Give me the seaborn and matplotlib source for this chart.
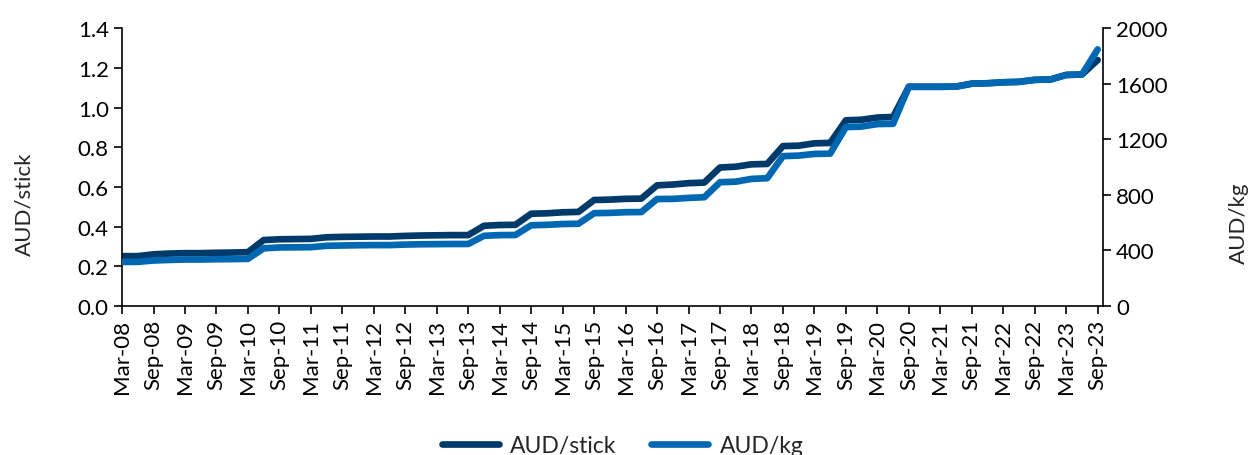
import pandas as pd
import matplotlib
matplotlib.use('Agg')
import matplotlib.pyplot as plt
import seaborn as sns

# quarterly, Mar-08 .. Sep-23
quarters = pd.date_range('2008-03-01', periods=63, freq='3MS')

aud_stick = [0.251, 0.251, 0.260, 0.264, 0.266, 0.266, 0.268, 0.269, 0.271, 0.332,
             0.336, 0.337, 0.338, 0.346, 0.348, 0.349, 0.350, 0.350, 0.353, 0.355,
             0.356, 0.357, 0.357, 0.404, 0.408, 0.409, 0.465, 0.467, 0.472, 0.474,
             0.534, 0.536, 0.540, 0.541, 0.608, 0.612, 0.619, 0.622, 0.698, 0.702,
             0.714, 0.716, 0.806, 0.808, 0.820, 0.822, 0.936, 0.939, 0.950, 0.953,
             1.105, 1.105, 1.105, 1.106, 1.121, 1.123, 1.128, 1.130, 1.140, 1.142,
             1.165, 1.167, 1.240]

aud_kg = [317, 317, 327, 331, 334, 334, 336, 337, 339, 415,
          421, 422, 423, 433, 435, 437, 438, 438, 442, 444,
          445, 446, 446, 505, 510, 511, 581, 584, 590, 592,
          668, 670, 675, 676, 770, 771, 778, 783, 891, 895,
          915, 920, 1079, 1083, 1095, 1097, 1288, 1292, 1310, 1312,
          1579, 1579, 1579, 1580, 1601, 1604, 1611, 1614, 1629, 1631,
          1664, 1667, 1848]

df = pd.DataFrame({'q': range(len(quarters)), 'stick': aud_stick, 'kg': aud_kg})
tick_labels = quarters.strftime('%b-%y')[::2]

sns.set_style('ticks')
plt.rcParams['font.family'] = ['Lato', 'DejaVu Sans']
plt.rcParams['font.size'] = 16

dark = '#003A6B'
blue = '#0068B3'

fig, ax = plt.subplots(figsize=(12.53, 4.56), dpi=100)
fig.subplots_adjust(left=0.0974, right=0.8803, bottom=0.327, top=0.9357)
ax2 = ax.twinx()

sns.lineplot(data=df, x='q', y='stick', ax=ax, color=dark, lw=4.8, label='AUD/stick', legend=False)
sns.lineplot(data=df, x='q', y='kg', ax=ax2, color=blue, lw=4.8, label='AUD/kg', legend=False)

ax.set_xlim(0, 62.34)
ax.set_ylim(0, 1.4)
ax2.set_ylim(0, 2000)
ax.set_yticks([0, 0.2, 0.4, 0.6, 0.8, 1.0, 1.2, 1.4])
ax.set_yticklabels([f'{v:.1f}' for v in ax.get_yticks()])
ax2.set_yticks(range(0, 2001, 400))
ax.set_xticks(range(0, 63, 2))
ax.set_xticklabels(tick_labels, rotation=90)

ax.set_xlabel('')
ax.set_ylabel('AUD/stick')
ax2.set_ylabel('AUD/kg')
# Excel puts the axis titles a bit below the middle
ax.yaxis.set_label_coords(-0.089, 0.37)
ax2.yaxis.set_label_coords(1.128, 0.30)

for a in (ax, ax2):
    a.spines['top'].set_visible(False)
    for s in a.spines.values():
        s.set_linewidth(1.2)
        s.set_color('black')
    a.tick_params(width=1.2, length=6, colors='black', labelsize=16)
ax.spines['right'].set_visible(False)
ax2.spines['left'].set_visible(False)
ax2.spines['bottom'].set_visible(False)

h1, l1 = ax.get_legend_handles_labels()
h2, l2 = ax2.get_legend_handles_labels()
fig.legend(h1 + h2, l1 + l2, loc='center', bbox_to_anchor=(0.497, 0.02), ncol=2,
           frameon=False, handlelength=2.5, handletextpad=0.5, columnspacing=1.5, fontsize=16.5)

fig.savefig('out.png', dpi=100)
